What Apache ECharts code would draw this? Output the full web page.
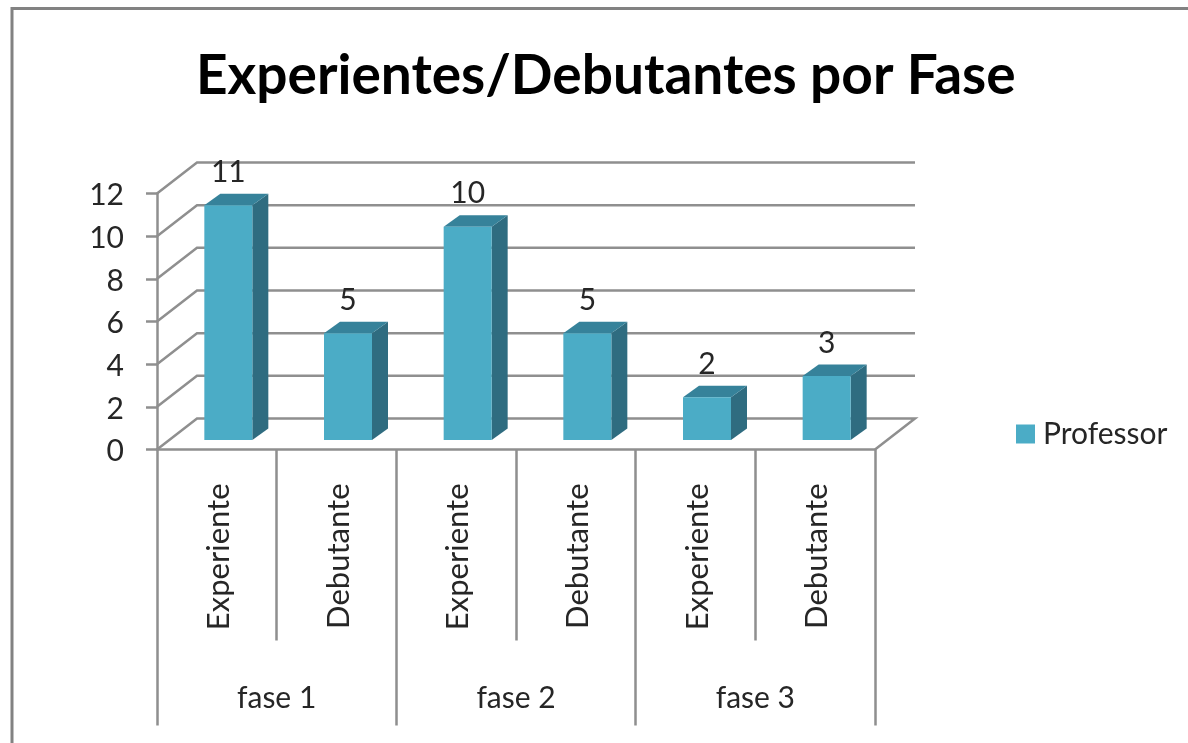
<!DOCTYPE html>
<html>
<head>
<meta charset="utf-8">
<title>Experientes/Debutantes por Fase</title>
<script src="https://cdn.jsdelivr.net/npm/echarts@6/dist/echarts.min.js"></script>
<style>
html, body { margin: 0; padding: 0; background: #fff; }
#main { width: 1188px; height: 743px; filter: blur(0.5px); }
</style>
</head>
<body>
<div id="main"></div>
<script>
const categories = ["Experiente", "Debutante", "Experiente", "Debutante", "Experiente", "Debutante"];
const phases = ["fase 1", "fase 2", "fase 3"];
const professor = [11, 5, 10, 5, 2, 3];
const gridTicks = [0, 2, 4, 6, 8, 10, 12];

const fontName = "Lato";
const lineGray = "#8f8f8f";
const textColor = "#262626";

// 3d look: wall sits behind the axis plane, bars sit in between
const wallDx = 40, wallDy = -31;
const barDx = 11.5, barDy = -9.5;
const depthDx = 16, depthDy = -11.5;
const barWidth = 48;

function renderWall(params, api) {
  const cs = params.coordSys;
  const y = api.coord([0, api.value(0)])[1];
  const left = cs.x, right = cs.x + cs.width;
  const lineStyle = { stroke: lineGray, lineWidth: 2.5, fill: null };
  const points = [[left, y], [left + wallDx, y + wallDy], [right + wallDx, y + wallDy]];
  if (api.value(0) === 0) {
    // floor is closed on the right side
    points.push([right, y]);
  }
  return { type: "polyline", shape: { points: points }, style: lineStyle, silent: true };
}

function renderBar(params, api) {
  const top = api.coord([api.value(0), api.value(1)]);
  const base = api.coord([api.value(0), 0]);
  const cx = top[0] + barDx;
  const x0 = cx - barWidth / 2, x1 = cx + barWidth / 2;
  const y0 = top[1] + barDy, y1 = base[1] + barDy;
  return {
    type: "group",
    children: [
      {
        type: "polygon",
        shape: { points: [[x1, y0], [x1 + depthDx, y0 + depthDy], [x1 + depthDx, y1 + depthDy], [x1, y1]] },
        style: { fill: "#2f6c80" }
      },
      {
        type: "polygon",
        shape: { points: [[x0, y0], [x0 + depthDx, y0 + depthDy], [x1 + depthDx, y0 + depthDy], [x1, y0]] },
        style: { fill: "#36829a" }
      },
      {
        type: "rect",
        shape: { x: x0, y: y0, width: barWidth, height: y1 - y0 },
        style: { fill: "#4bacc6" }
      },
      {
        type: "text",
        style: {
          text: String(api.value(1)),
          x: cx, y: y0 - 33,
          align: "center", verticalAlign: "middle",
          font: "30px " + fontName, fill: textColor
        }
      }
    ]
  };
}

const myChart = echarts.init(document.getElementById("main"), null, { renderer: "canvas" });

myChart.setOption({
  animation: false,
  backgroundColor: "#fff",
  title: {
    text: "Experientes/Debutantes por Fase",
    left: 191,
    top: 44,
    textStyle: { fontFamily: fontName, fontWeight: "bold", fontSize: 55, color: "#000" }
  },
  legend: {
    data: ["Professor"],
    left: 1011,
    top: 414,
    icon: "rect",
    itemWidth: 19,
    itemHeight: 19,
    itemGap: 0,
    textStyle: { fontFamily: fontName, fontSize: 30, color: textColor, padding: [0, 0, 8, 3] }
  },
  grid: { left: 157, top: 193.5, width: 718, height: 256 },
  graphic: [
    {
      type: "polyline",
      shape: { points: [[12, 743], [12, 8.5], [1188, 8.5]] },
      style: { stroke: "#828282", lineWidth: 3, fill: null },
      silent: true
    }
  ],
  xAxis: [
    {
      type: "category",
      data: categories,
      axisLine: { show: true, lineStyle: { color: lineGray, width: 2.5 } },
      axisTick: { show: true, alignWithLabel: false, length: 191, lineStyle: { color: lineGray, width: 2.5 } },
      // short lineHeight + top align nudges the rotated text 2px to the right
      axisLabel: { interval: 0, rotate: 90, margin: 34, verticalAlign: "top", lineHeight: 4, fontFamily: fontName, fontSize: 31, color: textColor }
    },
    {
      type: "category",
      position: "bottom",
      data: phases,
      axisLine: { show: false },
      axisTick: { show: true, length: 276, lineStyle: { color: lineGray, width: 2.5 } },
      axisLabel: { interval: 0, margin: 234, fontFamily: fontName, fontSize: 30, color: textColor }
    }
  ],
  yAxis: {
    type: "value",
    min: 0,
    max: 12,
    interval: 2,
    axisLine: { show: true, lineStyle: { color: lineGray, width: 2.5 } },
    axisTick: { show: true, length: 11, lineStyle: { color: lineGray, width: 2.5 } },
    axisLabel: { margin: 33, verticalAlign: "top", lineHeight: 4, fontFamily: fontName, fontSize: 30, color: textColor },
    splitLine: { show: false }
  },
  series: [
    {
      name: "wall",
      type: "custom",
      coordinateSystem: "cartesian2d",
      renderItem: renderWall,
      data: gridTicks.map(function (t) { return [t]; }),
      encode: { y: 0 },
      silent: true,
      z: 1
    },
    {
      name: "Professor",
      type: "custom",
      coordinateSystem: "cartesian2d",
      renderItem: renderBar,
      itemStyle: { color: "#4bacc6" },
      data: professor.map(function (v, i) { return [i, v]; }),
      encode: { x: 0, y: 1 },
      silent: true,
      z: 3
    }
  ]
});
</script>
</body>
</html>
